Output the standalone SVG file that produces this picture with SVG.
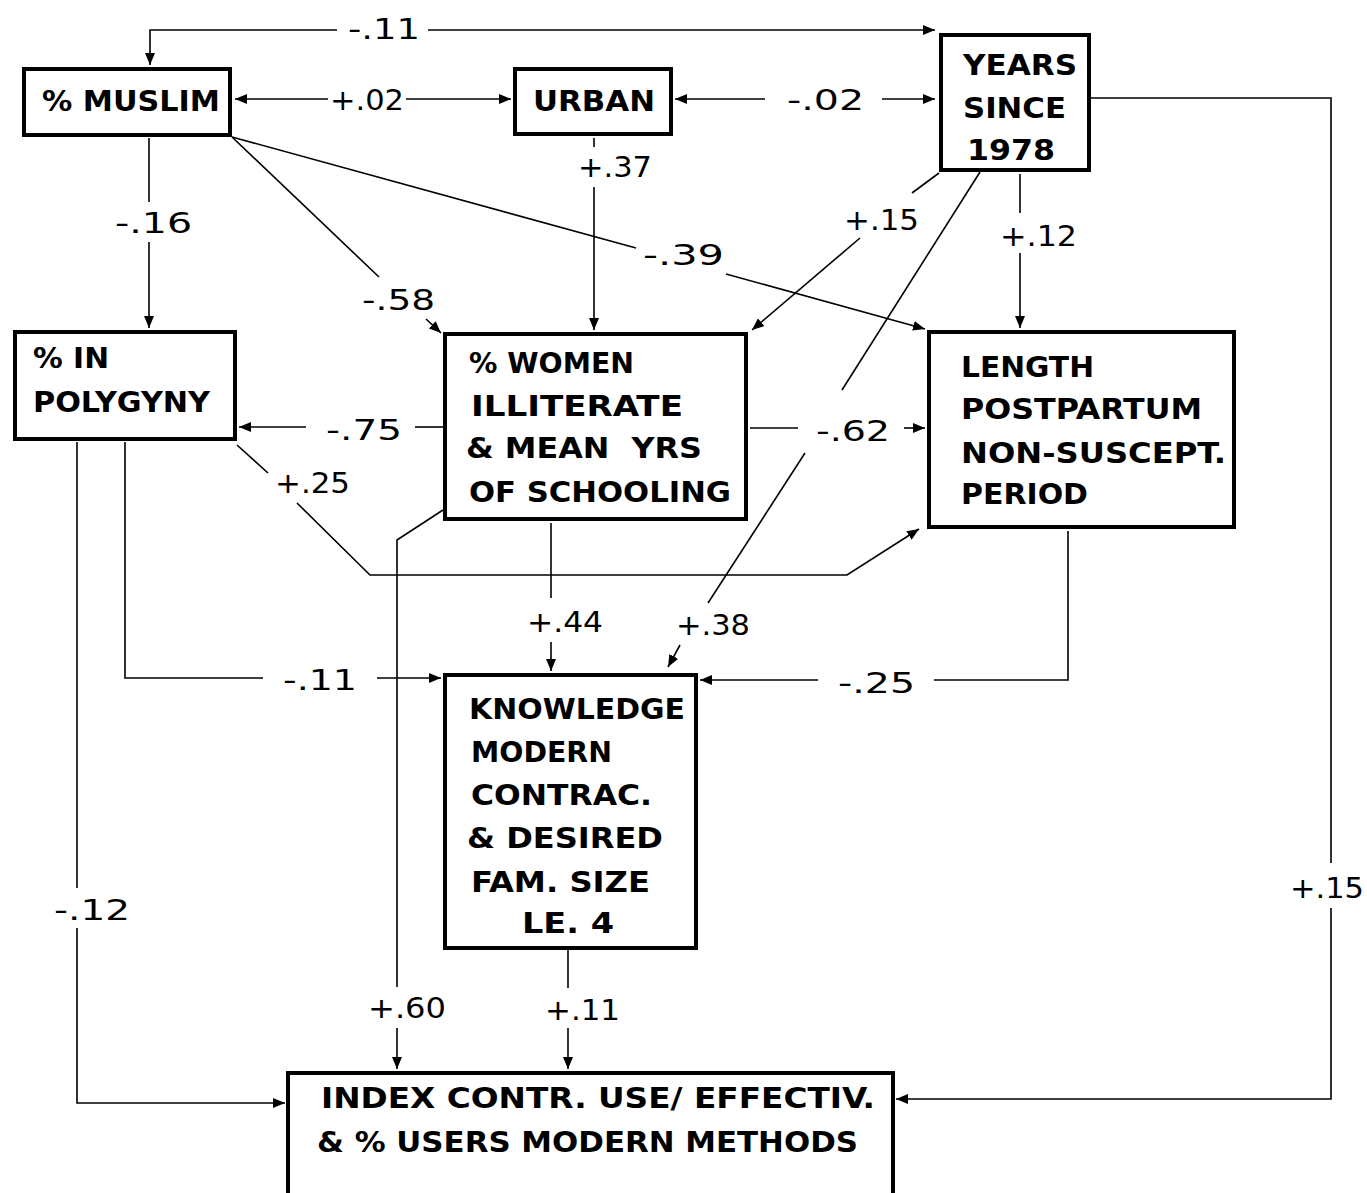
<svg xmlns="http://www.w3.org/2000/svg" width="1367" height="1193" viewBox="0 0 1367 1193">
<style>
.box{fill:#fff;stroke:#000;stroke-width:4}
.nt{font-family:"DejaVu Sans Condensed","Liberation Sans Narrow","DejaVu Sans",sans-serif;font-weight:bold;font-size:29px;fill:#000}
.lb{font-family:"DejaVu Sans Condensed","Liberation Sans Narrow","DejaVu Sans",sans-serif;font-weight:normal;font-size:29px;fill:#000}
.c{fill:none;stroke:#000;stroke-width:1.6}
.a{marker-end:url(#ah)}
</style>
<defs>
<marker id="ah" viewBox="0 0 12 10" refX="12" refY="5" markerWidth="12" markerHeight="10" markerUnits="userSpaceOnUse" orient="auto">
<path d="M0,0 L12,5 L0,10 z" fill="#000"/>
</marker>
</defs>
<rect width="1367" height="1193" fill="#fff"/>
<g id="connectors">
<path class="c" d="M337,30 L150,30 L150,65" marker-end="url(#ah)"/>
<path class="c a" d="M428,30 L935,30"/>
<path class="c a" d="M328,99 L235,99"/>
<path class="c a" d="M406,99 L511,99"/>
<path class="c a" d="M765,99 L675,99"/>
<path class="c a" d="M882,99 L935,99"/>
<path class="c" d="M149,138 L149,202"/>
<path class="c a" d="M149,242 L149,328"/>
<path class="c" d="M232,137 L379,277"/>
<path class="c a" d="M426,319 L441,333"/>
<path class="c" d="M232,137 L636,248"/>
<path class="c a" d="M726,274 L925,329"/>
<path class="c" d="M594,138 L594,147"/>
<path class="c a" d="M594,187 L594,330"/>
<path class="c" d="M939,173 L912,193"/>
<path class="c a" d="M860,238 L752,330"/>
<path class="c" d="M980,172 L842,390"/>
<path class="c" d="M805,453 L708,603"/>
<path class="c a" d="M680,645 L668,667"/>
<path class="c" d="M750,428 L798,428"/>
<path class="c a" d="M904,428 L925,428"/>
<path class="c" d="M1020,174 L1020,213"/>
<path class="c a" d="M1020,253 L1020,328"/>
<path class="c" d="M1091,98 L1331,98 L1331,863"/>
<path class="c a" d="M1331,908 L1331,1099 L896,1099"/>
<path class="c" d="M443,427 L415,427"/>
<path class="c a" d="M306,427 L239,427"/>
<path class="c" d="M237,445 L268,473"/>
<path class="c a" d="M297,503 L370,575 L847,575 L919,529"/>
<path class="c" d="M443,510 L397,540 L397,987"/>
<path class="c a" d="M397,1028 L397,1069"/>
<path class="c" d="M551,523 L551,598"/>
<path class="c a" d="M551,642 L551,671"/>
<path class="c" d="M125,442 L125,678 L263,678"/>
<path class="c a" d="M377,678 L441,678"/>
<path class="c" d="M77,442 L77,888"/>
<path class="c a" d="M77,928 L77,1103 L285,1103"/>
<path class="c" d="M1068,531 L1068,680 L934,680"/>
<path class="c a" d="M818,680 L700,680"/>
<path class="c" d="M568,949 L568,988"/>
<path class="c a" d="M568,1028 L568,1069"/>
</g>
<g id="labels">
<text class="lb" x="348" y="39" textLength="72" lengthAdjust="spacingAndGlyphs">-.11</text>
<text class="lb" x="330" y="110" textLength="74" lengthAdjust="spacingAndGlyphs">+.02</text>
<text class="lb" x="787" y="110" textLength="77" lengthAdjust="spacingAndGlyphs">-.02</text>
<text class="lb" x="115" y="233" textLength="77" lengthAdjust="spacingAndGlyphs">-.16</text>
<text class="lb" x="578" y="177" textLength="74" lengthAdjust="spacingAndGlyphs">+.37</text>
<text class="lb" x="362" y="310" textLength="73" lengthAdjust="spacingAndGlyphs">-.58</text>
<text class="lb" x="643" y="265" textLength="81" lengthAdjust="spacingAndGlyphs">-.39</text>
<text class="lb" x="844" y="230" textLength="75" lengthAdjust="spacingAndGlyphs">+.15</text>
<text class="lb" x="1000" y="246" textLength="77" lengthAdjust="spacingAndGlyphs">+.12</text>
<text class="lb" x="326" y="440" textLength="76" lengthAdjust="spacingAndGlyphs">-.75</text>
<text class="lb" x="816" y="441" textLength="74" lengthAdjust="spacingAndGlyphs">-.62</text>
<text class="lb" x="275" y="493" textLength="75" lengthAdjust="spacingAndGlyphs">+.25</text>
<text class="lb" x="527" y="632" textLength="76" lengthAdjust="spacingAndGlyphs">+.44</text>
<text class="lb" x="676" y="635" textLength="74" lengthAdjust="spacingAndGlyphs">+.38</text>
<text class="lb" x="283" y="690" textLength="74" lengthAdjust="spacingAndGlyphs">-.11</text>
<text class="lb" x="838" y="693" textLength="77" lengthAdjust="spacingAndGlyphs">-.25</text>
<text class="lb" x="54" y="920" textLength="76" lengthAdjust="spacingAndGlyphs">-.12</text>
<text class="lb" x="368" y="1018" textLength="78" lengthAdjust="spacingAndGlyphs">+.60</text>
<text class="lb" x="545" y="1020" textLength="75" lengthAdjust="spacingAndGlyphs">+.11</text>
<text class="lb" x="1290" y="898" textLength="74" lengthAdjust="spacingAndGlyphs">+.15</text>
</g>
<g id="muslim">
<rect class="box" x="24" y="69" width="206" height="66"/>
<text class="nt" x="42" y="111" textLength="178" lengthAdjust="spacingAndGlyphs">% MUSLIM</text>
</g>
<g id="urban">
<rect class="box" x="515" y="69" width="156" height="65"/>
<text class="nt" x="533" y="111" textLength="122" lengthAdjust="spacingAndGlyphs">URBAN</text>
</g>
<g id="years">
<rect class="box" x="941" y="35" width="148" height="135"/>
<text class="nt" x="963" y="75" textLength="114" lengthAdjust="spacingAndGlyphs">YEARS</text>
<text class="nt" x="963" y="118" textLength="103" lengthAdjust="spacingAndGlyphs">SINCE</text>
<text class="nt" x="967" y="160" textLength="88" lengthAdjust="spacingAndGlyphs">1978</text>
</g>
<g id="polygyny">
<rect class="box" x="15" y="332" width="220" height="107"/>
<text class="nt" x="33" y="368" textLength="76" lengthAdjust="spacingAndGlyphs">% IN</text>
<text class="nt" x="33" y="412" textLength="177" lengthAdjust="spacingAndGlyphs">POLYGYNY</text>
</g>
<g id="women">
<rect class="box" x="445" y="334" width="301" height="185"/>
<text class="nt" x="469" y="373" textLength="165" lengthAdjust="spacingAndGlyphs">% WOMEN</text>
<text class="nt" x="471" y="416" textLength="212" lengthAdjust="spacingAndGlyphs">ILLITERATE</text>
<text class="nt" x="466" y="458" textLength="236" lengthAdjust="spacingAndGlyphs" xml:space="preserve">&amp; MEAN  YRS</text>
<text class="nt" x="469" y="502" textLength="262" lengthAdjust="spacingAndGlyphs">OF SCHOOLING</text>
</g>
<g id="length">
<rect class="box" x="929" y="332" width="305" height="195"/>
<text class="nt" x="961" y="377" textLength="133" lengthAdjust="spacingAndGlyphs">LENGTH</text>
<text class="nt" x="961" y="419" textLength="241" lengthAdjust="spacingAndGlyphs">POSTPARTUM</text>
<text class="nt" x="961" y="463" textLength="265" lengthAdjust="spacingAndGlyphs">NON-SUSCEPT.</text>
<text class="nt" x="961" y="504" textLength="127" lengthAdjust="spacingAndGlyphs">PERIOD</text>
</g>
<g id="knowledge">
<rect class="box" x="445" y="675" width="251" height="273"/>
<text class="nt" x="469" y="719" textLength="216" lengthAdjust="spacingAndGlyphs">KNOWLEDGE</text>
<text class="nt" x="471" y="762" textLength="141" lengthAdjust="spacingAndGlyphs">MODERN</text>
<text class="nt" x="471" y="805" textLength="181" lengthAdjust="spacingAndGlyphs">CONTRAC.</text>
<text class="nt" x="467" y="848" textLength="196" lengthAdjust="spacingAndGlyphs">&amp; DESIRED</text>
<text class="nt" x="471" y="892" textLength="179" lengthAdjust="spacingAndGlyphs">FAM. SIZE</text>
<text class="nt" x="522" y="933" textLength="92" lengthAdjust="spacingAndGlyphs">LE. 4</text>
</g>
<g id="index">
<rect class="box" x="288" y="1073" width="605" height="150"/>
<text class="nt" x="321" y="1108" textLength="554" lengthAdjust="spacingAndGlyphs">INDEX CONTR. USE/ EFFECTIV.</text>
<text class="nt" x="317" y="1152" textLength="541" lengthAdjust="spacingAndGlyphs">&amp; % USERS MODERN METHODS</text>
</g>
</svg>
